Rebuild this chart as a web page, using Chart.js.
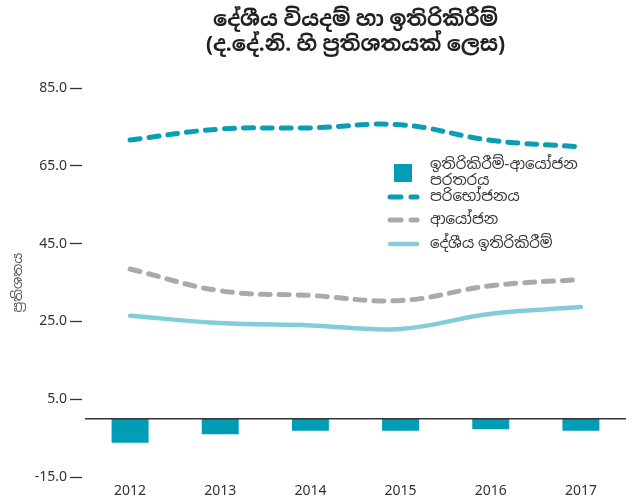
<!DOCTYPE html>
<html>
<head>
<meta charset="utf-8">
<script src="https://cdn.jsdelivr.net/npm/chart.js@4/dist/chart.umd.min.js"></script>
<style>
  body { margin: 0; background: #fff; }
  #wrap { width: 626px; height: 502px; }
</style>
</head>
<body>
<div id="wrap"><canvas id="SavingsChart"></canvas></div>
<script>
const years = ['2012', '2013', '2014', '2015', '2016', '2017'];
const gapValues = [-6.2, -4.0, -3.1, -3.1, -2.7, -3.1];
const consumption = [71.7, 74.5, 74.8, 75.6, 71.6, 69.9];
const investment = [38.5, 32.9, 31.7, 30.4, 34.2, 35.8];
const savings = [26.5, 24.6, 24.0, 23.1, 27.0, 28.7];
const yTicks = [-15, 5, 25, 45, 65, 85];

const FONT = "'Noto Sans', 'Noto Sans Sinhala', 'Lato', sans-serif";

// zero line across the plot
const zeroLine = {
    id: 'zeroLine',
    afterDatasetsDraw(chart) {
        const y = chart.scales.y.getPixelForValue(0);
        const ctx = chart.ctx;
        ctx.save();
        ctx.strokeStyle = '#333';
        ctx.lineWidth = 1.5;
        ctx.beginPath();
        ctx.moveTo(chart.chartArea.left, y);
        ctx.lineTo(chart.chartArea.right, y);
        ctx.stroke();
        ctx.restore();
    }
};

// legend sitting inside the plot
const boxLegend = {
    id: 'boxLegend',
    afterDraw(chart) {
        const ctx = chart.ctx;
        const ds = chart.data.datasets;
        const tx = 430;
        const rows = [173, 197, 220, 244];
        ctx.save();
        ctx.font = '15px ' + FONT;
        ctx.textBaseline = 'middle';
        ds.forEach((d, i) => {
            const y = rows[i];
            if (d.type === 'line') {
                ctx.strokeStyle = d.borderColor;
                ctx.lineWidth = d.borderWidth;
                ctx.lineCap = 'round';
                ctx.setLineDash(d.borderDash.length ? [11, 10] : []);
                ctx.beginPath();
                ctx.moveTo(390, y);
                ctx.lineTo(417, y);
                ctx.stroke();
                ctx.setLineDash([]);
            } else {
                ctx.fillStyle = d.backgroundColor;
                ctx.fillRect(394, y - 9, 18, 18);
            }
            ctx.fillStyle = '#333';
            const lines = Array.isArray(d.label) ? d.label : [d.label];
            lines.forEach((t, k) => {
                ctx.fillText(t, tx, y - (lines.length - 1) * 8 + k * 16);
            });
        });
        ctx.restore();
    }
};

const ctx = document.getElementById('SavingsChart').getContext('2d');
const savingsChart = new Chart(ctx, {
    type: 'bar',
    data: {
        labels: years,
        datasets: [{
            label: ['ඉතිරිකිරීම්-ආයෝජන', 'පරතරය'],
            data: gapValues,
            backgroundColor: '#009DB5',
            barPercentage: 0.41,
            categoryPercentage: 1,
            order: 4
        }, {
            type: 'line',
            label: 'පරිභෝජනය',
            data: consumption,
            borderColor: '#0A9DB3',
            borderWidth: 5,
            borderDash: [10, 9],
            borderCapStyle: 'round',
            tension: 0.4,
            pointRadius: 0,
            order: 1
        }, {
            type: 'line',
            label: 'ආයෝජන',
            data: investment,
            borderColor: '#A9AAAE',
            borderWidth: 5,
            borderDash: [10, 9],
            borderCapStyle: 'round',
            tension: 0.4,
            pointRadius: 0,
            order: 2
        }, {
            type: 'line',
            label: 'දේශීය ඉතිරිකිරීම්',
            data: savings,
            borderColor: '#83CDD9',
            borderWidth: 4.5,
            borderDash: [],
            borderCapStyle: 'round',
            tension: 0.4,
            pointRadius: 0,
            order: 3
        }]
    },
    options: {
        responsive: true,
        maintainAspectRatio: false,
        animation: false,
        layout: { padding: { left: 10, right: 0, top: 5, bottom: 2 } },
        plugins: {
            legend: { display: false },
            tooltip: { enabled: false },
            title: {
                display: true,
                fullSize: false,
                text: ['දේශීය වියදම් හා ඉතිරිකිරීම්', '(ද.දේ.නි. හි ප්‍රතිශතයක් ලෙස)'],
                color: '#222',
                font: { family: FONT, size: 21, weight: 'bold', lineHeight: 1.22 },
                padding: { top: 2, bottom: 30 }
            }
        },
        scales: {
            x: {
                grid: { display: false, drawTicks: false },
                border: { display: false },
                ticks: { color: '#333', font: { family: FONT, size: 14 }, padding: 6 },
                afterFit(scale) {
                    scale.height = 23;
                }
            },
            y: {
                min: -15,
                max: 85,
                afterBuildTicks(scale) {
                    scale.ticks = yTicks.map(v => ({ value: v }));
                },
                afterFit(scale) {
                    scale.width = 75;
                },
                border: { display: false },
                grid: {
                    drawOnChartArea: false,
                    drawTicks: true,
                    tickLength: 15,
                    tickColor: '#333',
                    tickWidth: 1.3,
                    tickBorderDash: [12, 20]
                },
                ticks: {
                    color: '#333',
                    padding: 3,
                    font: { family: FONT, size: 14 },
                    callback: v => v.toFixed(1)
                },
                title: {
                    display: true,
                    text: 'ප්‍රතිශතය',
                    color: '#555',
                    font: { family: FONT, size: 13.5 },
                    padding: 0
                }
            }
        }
    },
    plugins: [zeroLine, boxLegend]
});
</script>
</body>
</html>
